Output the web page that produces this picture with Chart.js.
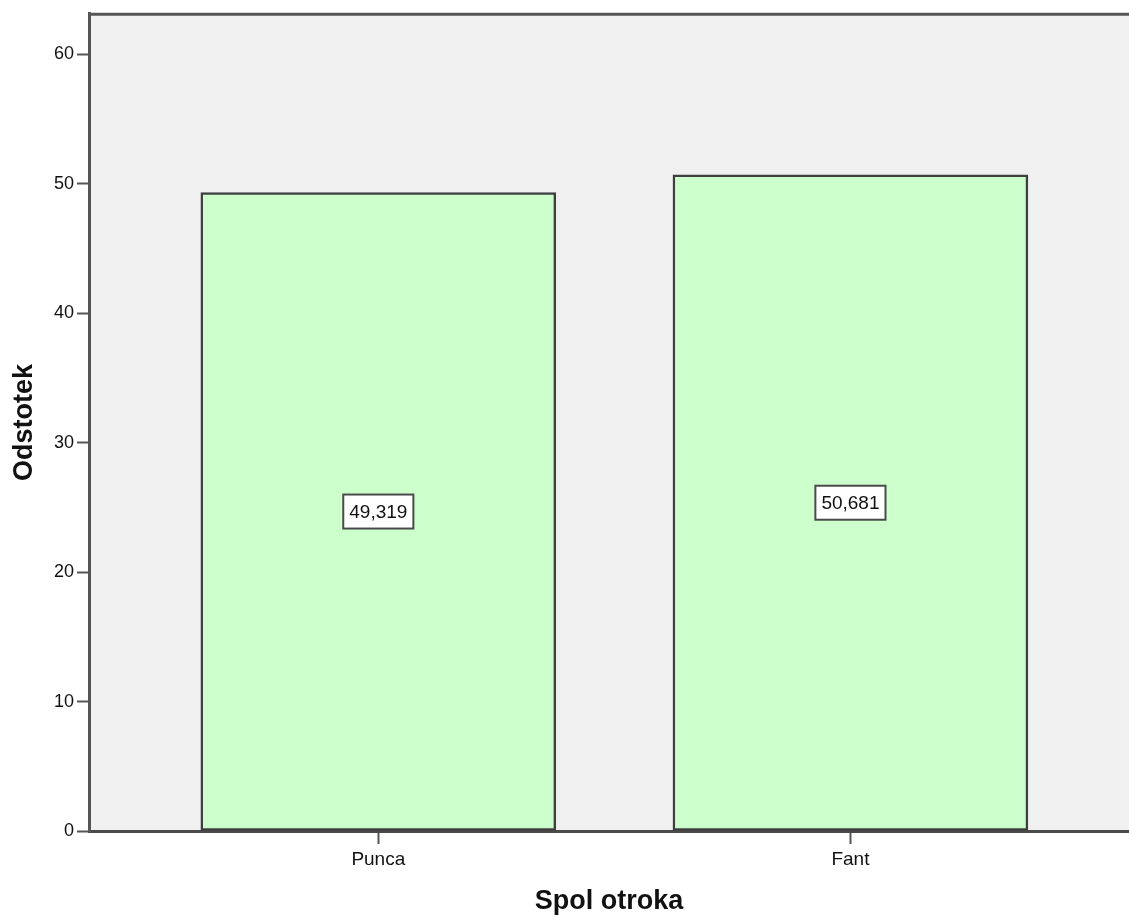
<!DOCTYPE html>
<html>
<head>
<meta charset="utf-8">
<script src="https://cdn.jsdelivr.net/npm/chart.js@4/dist/chart.umd.min.js"></script>
<style>
  html, body { margin: 0; padding: 0; background: #ffffff; overflow: hidden; }
  #wrap { width: 1129px; height: 918px; }
</style>
</head>
<body>
<div id="wrap"><canvas id="c" width="1129" height="918"></canvas></div>
<script>
const categories = ['Punca', 'Fant'];
const values = [49.319, 50.681];
const valueLabels = ['49,319', '50,681'];
const yTicks = [0, 10, 20, 30, 40, 50, 60];

const FONT = '"Liberation Sans", Arial, sans-serif';

const bgPlugin = {
  id: 'bg',
  beforeDraw(chart) {
    const { ctx, chartArea: a } = chart;
    ctx.save();
    ctx.fillStyle = '#f0f0f0';
    ctx.fillRect(a.left, a.top, a.right - a.left, a.bottom - a.top);
    ctx.strokeStyle = '#555555';
    ctx.lineWidth = 3;
    ctx.beginPath();
    ctx.moveTo(a.left - 1, a.top + 0.5);
    ctx.lineTo(a.right, a.top + 0.5);
    ctx.stroke();
    ctx.restore();
  }
};

const labelPlugin = {
  id: 'vlabels',
  afterDatasetsDraw(chart) {
    const { ctx } = chart;
    const meta = chart.getDatasetMeta(0);
    ctx.save();
    ctx.font = '19px ' + FONT;
    ctx.textAlign = 'center';
    ctx.textBaseline = 'middle';
    meta.data.forEach((bar, i) => {
      const txt = valueLabels[i];
      const cx = bar.x;
      const cy = (bar.y + bar.base) / 2;
      const w = ctx.measureText(txt).width + 12;
      const h = 34;
      ctx.fillStyle = '#ffffff';
      ctx.fillRect(cx - w / 2, cy - h / 2, w, h);
      ctx.strokeStyle = '#4a4a4a';
      ctx.lineWidth = 2;
      ctx.strokeRect(cx - w / 2, cy - h / 2, w, h);
      ctx.fillStyle = '#111111';
      ctx.fillText(txt, cx, cy + 1);
    });
    ctx.restore();
  }
};

new Chart(document.getElementById('c'), {
  type: 'bar',
  data: {
    datasets: [{
      data: categories.map((c, i) => ({ x: i + 1, y: values[i] })),
      backgroundColor: '#ccffcc',
      borderColor: '#3f3f3f',
      borderWidth: 2.5,
      borderSkipped: false,
      barThickness: 355
    }]
  },
  options: {
    responsive: false,
    animation: false,
    layout: { padding: { top: 13, right: 0, left: 0, bottom: 0 } },
    plugins: { legend: { display: false }, tooltip: { enabled: false } },
    scales: {
      x: {
        type: 'linear',
        offset: false,
        min: 1 - (378.25 - 89) / 472,
        max: 2 + (1129 - 850.5) / 472,
        afterBuildTicks(s) { s.ticks = categories.map((c, i) => ({ value: i + 1 })); },
        afterFit(s) { s.height = 87; },
        grid: { offset: false, drawOnChartArea: false, drawTicks: true, tickLength: 13, tickColor: '#555555', tickWidth: 2 },
        border: { display: true, color: '#4a4a4a', width: 3 },
        ticks: {
          autoSkip: false,
          maxRotation: 0,
          padding: 4,
          color: '#111111',
          font: { family: FONT, size: 19 },
          callback: (v) => categories[Math.round(v) - 1] || ''
        },
        title: {
          display: true,
          text: 'Spol otroka',
          color: '#111111',
          font: { family: FONT, size: 27, weight: 'bold' },
          padding: { top: 0, bottom: 0 }
        }
      },
      y: {
        min: 0,
        max: 63.13,
        afterBuildTicks(s) { s.ticks = yTicks.map(v => ({ value: v })); },
        afterFit(s) { s.width = 89; },
        grid: { drawOnChartArea: false, drawTicks: true, tickLength: 12, tickColor: '#555555', tickWidth: 2 },
        border: { display: true, color: '#555555', width: 3 },
        ticks: {
          padding: 3,
          color: '#111111',
          font: { family: FONT, size: 18 }
        },
        title: {
          display: true,
          text: 'Odstotek',
          color: '#111111',
          font: { family: FONT, size: 27, weight: 'bold' },
          padding: { top: 8, bottom: 0 }
        }
      }
    }
  },
  plugins: [bgPlugin, labelPlugin]
});
</script>
</body>
</html>
